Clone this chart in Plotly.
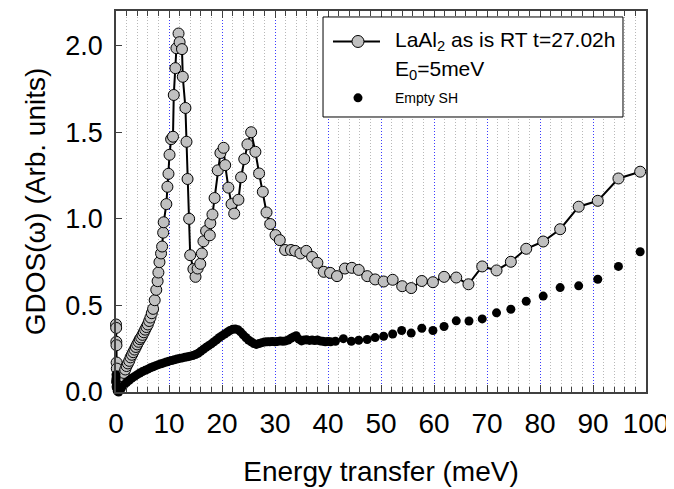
import plotly.graph_objects as go

# ---- data ----
lal_energy = [0.0, 0.03, 0.06, 0.09, 0.12, 0.15, 0.2, 0.3,
              0.4, 0.6, 0.8, 1.0, 1.25, 1.5, 1.75, 2.0, 2.25, 2.5, 2.75, 3.0,
              3.25, 3.5, 3.75, 4.0, 4.25, 4.5, 4.75, 5.0, 5.25, 5.5, 5.75, 6.0,
              6.25, 6.5, 6.75, 7.0, 7.3, 7.6, 7.85, 8.0, 8.2, 8.5, 8.7, 8.9, 9.0,
              9.5, 9.7, 9.9, 10.1, 10.4, 10.75, 10.9, 11.2, 11.4, 11.8, 12.0,
              12.45, 12.6, 13.1, 13.3, 13.5, 13.8, 14.0, 14.6, 15.0, 15.4, 15.9,
              16.2, 16.5, 17.0, 17.7, 17.8, 18.2, 18.6, 19.2, 19.7, 20.3, 20.6,
              21.2, 21.8, 22.3, 23.1, 23.6, 24.2, 24.8, 25.5, 26.3, 27.0, 27.7,
              28.4, 29.1, 30.1, 30.9, 31.9, 33.0, 33.8, 34.8, 35.9, 37.0, 38.0,
              39.2, 40.4, 41.7, 43.2, 44.5, 45.8, 47.4, 48.9, 50.5, 52.2, 54.0,
              55.7, 57.7, 59.8, 61.9, 64.2, 66.5, 69.1, 71.8, 74.5, 77.4, 80.6,
              83.8, 87.3, 90.9, 94.8, 98.9]
lal_gdos = [0.39, 0.37, 0.29, 0.27, 0.17, 0.135, 0.06, 0.03,
            0.03, 0.04, 0.055, 0.07, 0.09, 0.11, 0.13, 0.15, 0.165, 0.18, 0.2, 0.215,
            0.23, 0.245, 0.26, 0.275, 0.29, 0.305, 0.315, 0.33, 0.345, 0.36, 0.375, 0.39,
            0.41, 0.43, 0.455, 0.48, 0.53, 0.59, 0.64, 0.69, 0.75, 0.80, 0.84, 0.92, 0.98,
            1.085, 1.185, 1.26, 1.37, 1.46, 1.474, 1.715, 1.87, 1.985, 2.07, 2.02,
            1.98, 1.82, 1.64, 1.445, 1.23, 1.0, 0.79, 0.71, 0.665, 0.713, 0.74,
            0.80, 0.87, 0.93, 0.905, 0.975, 1.025, 1.12, 1.28, 1.38, 1.41, 1.31,
            1.18, 1.085, 1.03, 1.11, 1.24, 1.345, 1.43, 1.50, 1.387, 1.262, 1.156,
            1.037, 0.97, 0.906, 0.877, 0.82, 0.82, 0.815, 0.80, 0.815, 0.78, 0.746,
            0.694, 0.688, 0.669, 0.713, 0.717, 0.705, 0.669, 0.65, 0.638, 0.648, 0.611,
            0.60, 0.641, 0.634, 0.665, 0.661, 0.622, 0.725, 0.702, 0.752, 0.827, 0.869,
            0.94, 1.07, 1.104, 1.233, 1.272]

empty_energy = [0.0, 0.0, 0.05, 0.1, 0.15, 0.25, 0.5, 0.75, 1.0, 1.5, 2.0, 2.5,
                3.0, 3.5, 4.0, 4.5, 5.0, 5.5, 6.0, 6.5, 7.0, 7.5, 8.0, 8.5, 9.0,
                9.5, 10.0, 10.5, 11.0, 11.5, 12.0, 12.5, 13.0, 13.5, 14.0, 14.5,
                15.0, 15.5, 16.0, 16.5, 17.0, 17.5, 18.0, 18.5, 19.0, 19.5, 20.0,
                20.5, 21.0, 21.5, 22.0, 22.5, 23.0, 23.5, 24.0, 24.5, 25.0, 25.5,
                26.0, 26.5, 27.0, 27.5, 28.0, 28.5, 29.0, 29.5, 30.0, 30.5, 31.0,
                31.5, 32.0, 32.5, 33.0, 33.5, 34.0, 34.5, 35.0, 35.5, 36.0, 36.5,
                37.0, 37.5, 38.0, 38.5, 39.0, 39.5, 40.0, 40.5, 41.4, 42.9, 44.4,
                45.8, 47.4, 48.9, 50.5, 52.2, 53.9, 55.7, 57.7, 59.8, 61.9, 64.2,
                66.6, 69.1, 71.8, 74.5, 77.4, 80.6, 83.8, 87.3, 90.9, 94.8, 98.9]
empty_gdos = [0.10, 0.08, 0.06, 0.04, 0.02, 0.005, 0.0, 0.01, 0.02, 0.04, 0.055, 0.068,
              0.08, 0.09, 0.10, 0.11, 0.118, 0.125, 0.132, 0.14, 0.146, 0.152, 0.158, 0.163, 0.168,
              0.173, 0.178, 0.182, 0.186, 0.19, 0.194, 0.197, 0.20, 0.203, 0.207, 0.211,
              0.216, 0.224, 0.235, 0.247, 0.258, 0.268, 0.278, 0.29, 0.302, 0.315, 0.325,
              0.335, 0.345, 0.355, 0.362, 0.364, 0.36, 0.347, 0.33, 0.315, 0.30, 0.29,
              0.28, 0.275, 0.28, 0.285, 0.288, 0.29, 0.29, 0.292, 0.29, 0.292, 0.295,
              0.293, 0.295, 0.30, 0.31, 0.318, 0.325, 0.305, 0.295, 0.30, 0.302, 0.298,
              0.30, 0.297, 0.30, 0.295, 0.293, 0.29, 0.292, 0.29, 0.293, 0.308, 0.293,
              0.299, 0.303, 0.314, 0.322, 0.335, 0.355, 0.34, 0.368, 0.355, 0.378, 0.411,
              0.41, 0.422, 0.457, 0.478, 0.524, 0.554, 0.603, 0.613, 0.651, 0.725, 0.81]

x_ticks = [0, 10, 20, 30, 40, 50, 60, 70, 80, 90, 100]
y_ticks = [0.0, 0.5, 1.0, 1.5, 2.0]
y_tick_text = ["0.0", "0.5", "1.0", "1.5", "2.0"]

legend_labels = ["LaAl<sub>2</sub> as is RT t=27.02h", "E<sub>0</sub>=5meV", "Empty SH"]

FONT = "Liberation Sans, Arial, sans-serif"
AXIS_COLOR = "#404040"
GRAY = "#c0c0c0"

fig = go.Figure()
fig.add_trace(go.Scatter(
    x=lal_energy, y=lal_gdos, mode="lines+markers",
    name=legend_labels[0],
    line=dict(color="black", width=2),
    marker=dict(symbol="circle", size=11, color=GRAY,
                line=dict(color="black", width=1)),
    cliponaxis=False, showlegend=False,
))
fig.add_trace(go.Scatter(
    x=empty_energy, y=empty_gdos, mode="markers",
    name=legend_labels[2],
    marker=dict(symbol="circle", size=9, color="black", line=dict(width=0)),
    cliponaxis=False, showlegend=False,
))

# ---- legend box drawn in paper coordinates ----
LX0, LX1, LY0, LY1 = 0.3906, 0.9566, 0.7218, 0.9843
ROW1, ROW2, ROW3 = 0.920, 0.845, 0.772
SYM_X = 0.4566
TXT_X = 0.5226
fig.add_shape(type="rect", xref="paper", yref="paper", x0=LX0, x1=LX1, y0=LY0, y1=LY1,
              line=dict(color="black", width=1), fillcolor="white", layer="above")
fig.add_shape(type="line", xref="paper", yref="paper", x0=0.4094, x1=0.4981, y0=ROW1, y1=ROW1,
              line=dict(color="black", width=2), layer="above")
fig.add_shape(type="circle", xref="paper", yref="paper", xsizemode="pixel", ysizemode="pixel",
              xanchor=SYM_X, yanchor=ROW1, x0=-6, x1=6, y0=-6, y1=6,
              fillcolor=GRAY, line=dict(color="black", width=1), layer="above")
fig.add_shape(type="circle", xref="paper", yref="paper", xsizemode="pixel", ysizemode="pixel",
              xanchor=SYM_X, yanchor=ROW3, x0=-4.5, x1=4.5, y0=-4.5, y1=4.5,
              fillcolor="black", line=dict(color="black", width=0), layer="above")
fig.add_annotation(xref="paper", yref="paper", x=TXT_X, y=ROW1, xanchor="left", yanchor="middle",
                   text=legend_labels[0], showarrow=False,
                   font=dict(size=21, family=FONT, color="black"))
fig.add_annotation(xref="paper", yref="paper", x=TXT_X, y=ROW2, xanchor="left", yanchor="middle",
                   text=legend_labels[1], showarrow=False,
                   font=dict(size=21, family=FONT, color="black"))
fig.add_annotation(xref="paper", yref="paper", x=TXT_X, y=ROW3, xanchor="left", yanchor="middle",
                   text=legend_labels[2], showarrow=False,
                   font=dict(size=14, family=FONT, color="black"))

fig.update_layout(
    width=666, height=481,
    margin=dict(l=108, r=28, t=3, b=97, autoexpand=False),
    paper_bgcolor="white", plot_bgcolor="white",
    font=dict(family=FONT, color="black"),
    showlegend=False,
)
fig.update_xaxes(
    range=[0, 100], tickmode="array", tickvals=x_ticks,
    ticks="inside", ticklen=7, tickwidth=1, tickcolor=AXIS_COLOR,
    showline=True, linecolor=AXIS_COLOR, linewidth=1.5, mirror="ticks",
    showgrid=True, gridcolor="#3a3aff", gridwidth=1, griddash="1px,2px",
    zeroline=False, automargin=False,
    tickfont=dict(size=28, family=FONT, color="black"),
    ticklabelstandoff=6,
    minor=dict(dtick=2, tick0=0, ticks="inside", ticklen=5, tickcolor=AXIS_COLOR,
               showgrid=True, gridcolor="#b8b8b8", gridwidth=1, griddash="1px,2px"),
    title=dict(text="Energy transfer (meV)", font=dict(size=28, family=FONT), standoff=23),
)
fig.update_yaxes(
    range=[0, 2.2], tickmode="array", tickvals=y_ticks, ticktext=y_tick_text,
    ticks="inside", ticklen=6, tickwidth=1, tickcolor=AXIS_COLOR,
    showline=True, linecolor=AXIS_COLOR, linewidth=1.5, mirror=True,
    showgrid=False, zeroline=False, automargin=False,
    tickfont=dict(size=27, family=FONT, color="black"),
    ticklabelstandoff=6,
    title=dict(text="GDOS(ω) (Arb. units)", font=dict(size=28, family=FONT), standoff=12),
)

fig.write_html("out.html")
